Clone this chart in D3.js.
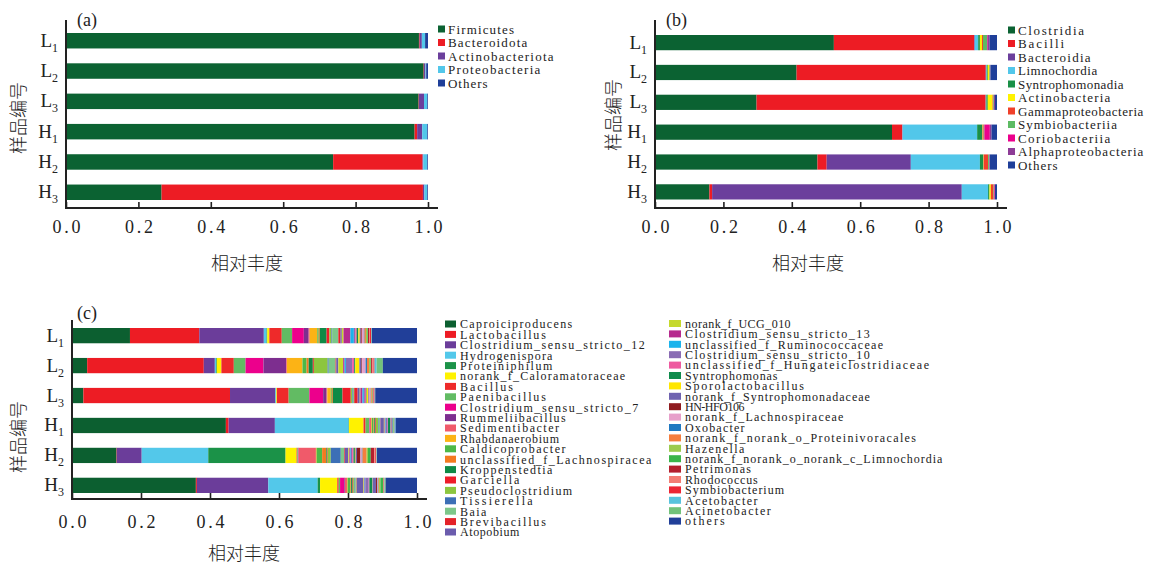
<!DOCTYPE html>
<html>
<head>
<meta charset="utf-8">
<script src="https://cdn.jsdelivr.net/npm/d3@7"></script>
<style>
  body { margin: 0; background: #fff; }
  svg { display: block; }
</style>
</head>
<body>
<svg id="chart" width="1157" height="564"></svg>
<script>
// ---- shared categories ----
const samples = ["L1", "L2", "L3", "H1", "H2", "H3"];
const xTicks = [0, 0.2, 0.4, 0.6, 0.8, 1.0];
const xTitle = "相对丰度";
const yTitle = "样品编号";

// ---- (a) phylum level ----
const phyla = ["Firmicutes", "Bacteroidota", "Actinobacteriota", "Proteobacteria", "Others"];
const phylumColors = ["#0b6232", "#ed1c24", "#6b3f9c", "#52c7ea", "#1f3f99"];
const phylumShares = [
  [0.975, 0.002, 0.006, 0.009, 0.008],
  [0.988, 0.001, 0.004, 0.002, 0.005],
  [0.974, 0.001, 0.014, 0.009, 0.002],
  [0.963, 0.007, 0.014, 0.014, 0.002],
  [0.738, 0.247, 0.002, 0.011, 0.002],
  [0.264, 0.722, 0.004, 0.008, 0.002]
];

// ---- (b) class level ----
const classes = ["Clostridia", "Bacilli", "Bacteroidia", "Limnochordia", "Syntrophomonadia",
  "Actinobacteria", "Gammaproteobacteria", "Symbiobacteriia", "Coriobacteriia",
  "Alphaproteobacteria", "Others"];
const classColors = ["#0b6232", "#ed1c24", "#6b3f9c", "#52c7ea", "#1a9046",
  "#fff200", "#f0402a", "#5dbb63", "#ec008c", "#8e3c97", "#1f3f99"];
const classShares = [
  [0.523, 0.410, 0.002, 0.010, 0.005, 0.006, 0.003, 0.012, 0.002, 0.005, 0.022],
  [0.414, 0.553, 0.001, 0.002, 0.003, 0.004, 0.001, 0.002, 0.000, 0.001, 0.019],
  [0.297, 0.670, 0.000, 0.002, 0.004, 0.014, 0.002, 0.002, 0.000, 0.003, 0.006],
  [0.693, 0.030, 0.001, 0.218, 0.015, 0.001, 0.003, 0.002, 0.016, 0.005, 0.016],
  [0.475, 0.027, 0.246, 0.202, 0.010, 0.001, 0.013, 0.003, 0.001, 0.001, 0.021],
  [0.159, 0.008, 0.730, 0.077, 0.004, 0.004, 0.008, 0.002, 0.002, 0.000, 0.006]
];

// ---- (c) genus level ----
const genera = [
  "Caproiciproducens", "Lactobacillus", "Clostridium_sensu_stricto_12", "Hydrogenispora",
  "Proteiniphilum", "norank_f_Caloramatoraceae", "Bacillus", "Paenibacillus",
  "Clostridium_sensu_stricto_7", "Rummeliibacillus", "Sedimentibacter", "Rhabdanaerobium",
  "Caldicoprobacter", "unclassified_f_Lachnospiracea", "Kroppenstedtia", "Garciella",
  "Pseudoclostridium", "Tissierella", "Baia", "Brevibacillus", "Atopobium",
  "norank_f_UCG_010", "Clostridium_sensu_stricto_13", "unclassified_f_Ruminococcaceae",
  "Clostridium_sensu_stricto_10", "unclassified_f_Hungateiclostridiaceae", "Syntrophomonas",
  "Sporolactobacillus", "norank_f_Syntrophomonadaceae", "HN-HFO106", "norank_f_Lachnospiraceae",
  "Oxobacter", "norank_f_norank_o_Proteinivoracales", "Hazenella",
  "norank_f_norank_o_norank_c_Limnochordia", "Petrimonas", "Rhodococcus", "Symbiobacterium",
  "Acetobacter", "Acinetobacter", "others"
];
const genusColors = [
  "#0c5f30", "#ed1c24", "#6b3d9a", "#53c8ea", "#1b9248", "#fff200", "#ee2a2a", "#62bb63",
  "#ec008c", "#7d2e8f", "#f05a6a", "#fcb315", "#4db848", "#f47a20", "#0f8a46", "#ee1d2a",
  "#8cc63f", "#3c6fb6", "#7dc78a", "#e42229", "#6b5cad",
  "#c5d92d", "#b62a8e", "#1cb3ec", "#8a6cb4", "#ee5aa0", "#0f8b4c", "#ffe600", "#6f63b0",
  "#8e1b1f", "#e79fca", "#2079c1", "#f57e3e", "#9ccb4e", "#3ab54a", "#b41f2e", "#f37d74",
  "#ec2634", "#58c3dd", "#72c27a", "#213f99"
];
const genusShares = [
  [0.168, 0.201, 0.187, 0.008, 0.002, 0.006, 0.036, 0.030, 0.034, 0.014,
   0.003, 0.022, 0.004, 0.003, 0.020, 0.008, 0.006, 0.002, 0.018, 0.006,
   0.004, 0.005, 0.020, 0.010, 0.004, 0.004, 0.005, 0.004, 0.003, 0.003,
   0.006, 0.002, 0.004, 0.004, 0.002, 0.003, 0.002, 0.004, 0.001, 0.001, 0.131],
  [0.044, 0.338, 0.032, 0.004, 0.002, 0.013, 0.036, 0.034, 0.052, 0.066,
   0.002, 0.045, 0.012, 0.006, 0.012, 0.003, 0.040, 0.003, 0.020, 0.002,
   0.006, 0.014, 0.004, 0.004, 0.018, 0.006, 0.003, 0.012, 0.006, 0.002,
   0.010, 0.004, 0.006, 0.004, 0.002, 0.003, 0.004, 0.003, 0.006, 0.018, 0.099],
  [0.033, 0.425, 0.131, 0.002, 0.001, 0.002, 0.034, 0.060, 0.040, 0.010,
   0.002, 0.010, 0.003, 0.003, 0.028, 0.024, 0.004, 0.002, 0.004, 0.010,
   0.006, 0.002, 0.006, 0.004, 0.003, 0.003, 0.002, 0.005, 0.002, 0.001,
   0.003, 0.001, 0.003, 0.002, 0.001, 0.001, 0.001, 0.003, 0.001, 0.001, 0.121],
  [0.446, 0.008, 0.134, 0.214, 0.001, 0.042, 0.006, 0.010, 0.001, 0.001,
   0.004, 0.002, 0.005, 0.002, 0.003, 0.002, 0.006, 0.002, 0.004, 0.001,
   0.010, 0.002, 0.001, 0.002, 0.006, 0.001, 0.006, 0.001, 0.003, 0.001,
   0.001, 0.002, 0.001, 0.001, 0.002, 0.001, 0.000, 0.000, 0.003, 0.000, 0.062],
  [0.129, 0.001, 0.072, 0.193, 0.224, 0.032, 0.002, 0.002, 0.001, 0.001,
   0.050, 0.002, 0.016, 0.012, 0.002, 0.002, 0.009, 0.029, 0.010, 0.002,
   0.010, 0.003, 0.002, 0.002, 0.004, 0.004, 0.004, 0.002, 0.004, 0.010,
   0.004, 0.002, 0.012, 0.004, 0.008, 0.010, 0.003, 0.003, 0.001, 0.001, 0.116],
  [0.359, 0.003, 0.207, 0.143, 0.007, 0.050, 0.004, 0.004, 0.012, 0.002,
   0.006, 0.002, 0.008, 0.002, 0.004, 0.002, 0.004, 0.002, 0.004, 0.001,
   0.018, 0.002, 0.002, 0.002, 0.010, 0.002, 0.008, 0.001, 0.010, 0.003,
   0.002, 0.002, 0.002, 0.004, 0.008, 0.001, 0.001, 0.001, 0.001, 0.003, 0.091]
];

const serif = "'Liberation Serif', 'DejaVu Serif', serif";
const cjk = "'Noto Sans CJK SC', 'Noto Sans', sans-serif";
const ink = "#222";
const svg = d3.select("#chart");

function drawPanel(p) {
  const g = svg.append("g");
  const x = d3.scaleLinear().domain([0, 1]).range(p.xRange);
  const y = d3.scaleBand().domain(samples).range(p.bandRange)
    .paddingInner(0.49).paddingOuter(0);

  // stacked horizontal bars
  const rows = samples.map((s, i) => {
    const r = { sample: s };
    p.names.forEach((n, j) => { r[n] = p.shares[i][j]; });
    return r;
  });
  const series = d3.stack().keys(p.names)(rows);
  g.append("g").selectAll("g").data(series).join("g")
    .attr("fill", (d, i) => p.colors[i])
    .selectAll("rect").data(d => d).join("rect")
    .attr("x", d => x(d[0]))
    .attr("width", d => Math.max(0, x(d[1]) - x(d[0])))
    .attr("y", d => y(d.data.sample))
    .attr("height", y.bandwidth());

  // x axis: inward ticks, labels below
  const xa = g.append("g").attr("transform", `translate(0,${p.axisY})`)
    .call(d3.axisBottom(x).tickValues(xTicks).tickSizeInner(-6).tickSizeOuter(0)
      .tickFormat(d3.format(".1f")));
  xa.select(".domain").remove();
  xa.selectAll(".tick line").attr("stroke", ink).attr("stroke-width", 1.6);
  xa.selectAll(".tick text")
    .attr("y", p.tickLabelDy).attr("dy", null)
    .attr("fill", ink)
    .style("font-family", serif).style("font-size", "18px")
    .attr("textLength", 28).attr("lengthAdjust", "spacing");
  g.append("line")
    .attr("x1", x(0) - 1).attr("x2", x(1) + 10)
    .attr("y1", p.axisY).attr("y2", p.axisY)
    .attr("stroke", ink).attr("stroke-width", 2);

  // y axis with subscripted sample labels
  const ya = g.append("g").attr("transform", `translate(${x(0)},0)`)
    .call(d3.axisLeft(y).tickSize(0).tickFormat(""));
  ya.select(".domain").remove();
  ya.selectAll(".tick text").remove();
  ya.selectAll(".tick").each(function (s) {
    const t = d3.select(this).append("text")
      .attr("x", -8).attr("y", 6)
      .attr("text-anchor", "end").attr("fill", ink)
      .style("font-family", serif);
    t.append("tspan").style("font-size", "19px").text(s[0]);
    t.append("tspan").attr("dy", 5).style("font-size", "12px").text(s.slice(1));
  });
  g.append("line")
    .attr("x1", x(0)).attr("x2", x(0))
    .attr("y1", p.top).attr("y2", p.axisY + 1)
    .attr("stroke", ink).attr("stroke-width", 2);

  // panel letter and axis titles
  g.append("text").attr("x", p.letterPos[0]).attr("y", p.letterPos[1])
    .attr("fill", ink).style("font-family", serif).style("font-size", "18px")
    .text(p.letter);
  g.append("text").attr("x", p.xTitlePos[0]).attr("y", p.xTitlePos[1])
    .attr("text-anchor", "middle").attr("fill", ink)
    .style("font-family", cjk).style("font-weight", 300).style("font-size", "18px")
    .text(xTitle);
  g.append("text")
    .attr("transform", `translate(${p.yTitlePos[0]},${p.yTitlePos[1]}) rotate(-90)`)
    .attr("text-anchor", "middle").attr("dominant-baseline", "central").attr("fill", ink)
    .style("font-family", cjk).style("font-weight", 300).style("font-size", "18px")
    .text(yTitle);

  // legend, one or more columns
  p.legend.forEach(col => {
    const items = p.names.slice(col.from, col.to);
    const lg = g.append("g").selectAll("g").data(items).join("g")
      .attr("transform", (d, i) => `translate(0,${col.y0 + i * col.step})`);
    lg.append("rect")
      .attr("x", col.boxX).attr("y", -col.boxH / 2)
      .attr("width", col.boxW).attr("height", col.boxH)
      .attr("fill", (d, i) => p.colors[col.from + i]);
    lg.append("text")
      .attr("x", col.textX).attr("y", col.fontSize * 0.36)
      .attr("fill", ink)
      .style("font-family", serif).style("font-size", col.fontSize + "px")
      .attr("textLength", d => d.length * 6.6).attr("lengthAdjust", "spacing")
      .text(d => d);
  });
}

drawPanel({
  names: phyla, colors: phylumColors, shares: phylumShares,
  xRange: [66, 428], bandRange: [33, 200], axisY: 208, top: 20, tickLabelDy: 25,
  letter: "(a)", letterPos: [77, 26], xTitlePos: [247, 270], yTitlePos: [17, 118],
  legend: [{ from: 0, to: 5, y0: 29, step: 13.5, boxX: 438, boxW: 7, boxH: 7, textX: 448, fontSize: 13 }]
});

drawPanel({
  names: classes, colors: classColors, shares: classShares,
  xRange: [655, 997], bandRange: [35, 199.5], axisY: 208, top: 20, tickLabelDy: 25,
  letter: "(b)", letterPos: [666, 26], xTitlePos: [808, 270], yTitlePos: [612, 115],
  legend: [{ from: 0, to: 11, y0: 30, step: 13.5, boxX: 1008, boxW: 7, boxH: 7, textX: 1018, fontSize: 13 }]
});

drawPanel({
  names: genera, colors: genusColors, shares: genusShares,
  xRange: [72, 417], bandRange: [328, 493], axisY: 499, top: 320, tickLabelDy: 29,
  letter: "(c)", letterPos: [77, 319], xTitlePos: [244, 560], yTitlePos: [17, 437],
  legend: [
    { from: 0, to: 21, y0: 324, step: 10.4, boxX: 445, boxW: 11, boxH: 7, textX: 460, fontSize: 12 },
    { from: 21, to: 41, y0: 323.5, step: 10.4, boxX: 669, boxW: 12, boxH: 7, textX: 685, fontSize: 12 }
  ]
});
</script>
</body>
</html>
